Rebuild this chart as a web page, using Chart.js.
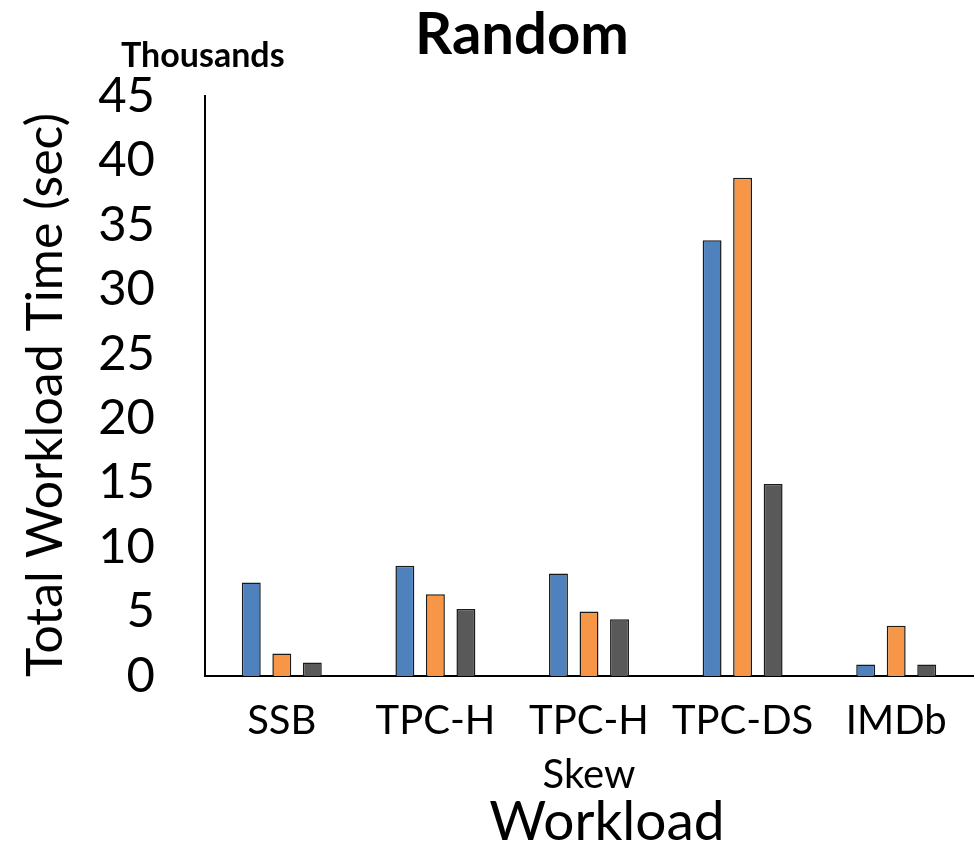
<!DOCTYPE html>
<html>
<head>
<meta charset="utf-8">
<script src="https://cdn.jsdelivr.net/npm/chart.js@4/dist/chart.umd.min.js"></script>
<style>
  html, body { margin: 0; padding: 0; background: #ffffff; }
  #wrap { width: 975px; height: 848px; }
</style>
</head>
<body>
<div id="wrap"><canvas id="c" width="975" height="848"></canvas></div>
<script>
// Workload categories (multi-line label as an array)
const categories = ['SSB', 'TPC-H', ['TPC-H', 'Skew'], 'TPC-DS', 'IMDb'];

// Total workload time, in thousands of seconds
const series1 = [7.25, 8.55, 7.95, 33.8, 0.9];
const series2 = [1.75, 6.35, 5.0, 38.65, 3.9];
const series3 = [1.05, 5.2, 4.4, 14.9, 0.9];

const seriesNames = ['Series1', 'Series2', 'Series3'];
const yTicks = [0, 5, 10, 15, 20, 25, 30, 35, 40, 45];

const chartTitle = 'Random';
const unitLabel = 'Thousands';
const yTitle = 'Total Workload Time (sec)';
const xTitle = 'Workload';

const FONT = 'Lato';

// Title, unit label and axis titles drawn on top of the chart
const textPlugin = {
  id: 'textPlugin',
  afterDraw(chart) {
    const ctx = chart.ctx;
    ctx.save();
    ctx.fillStyle = '#000';
    ctx.textBaseline = 'middle';

    ctx.textAlign = 'center';
    ctx.font = 'bold 58px ' + FONT;
    ctx.fillText(chartTitle, 522, 35);

    ctx.textAlign = 'left';
    ctx.font = 'bold 34px ' + FONT;
    ctx.fillText(unitLabel, 121, 56);

    ctx.textAlign = 'center';
    ctx.font = '55px ' + FONT;
    ctx.fillText(xTitle, 607, 822);

    ctx.translate(46, 395);
    ctx.rotate(-Math.PI / 2);
    ctx.font = '50px ' + FONT;
    ctx.fillText(yTitle, 0, 0);
    ctx.restore();
  }
};

new Chart(document.getElementById('c'), {
  type: 'bar',
  data: {
    labels: categories,
    datasets: [
      { label: seriesNames[0], data: series1, backgroundColor: '#4F81BD' },
      { label: seriesNames[1], data: series2, backgroundColor: '#F79646' },
      { label: seriesNames[2], data: series3, backgroundColor: '#595959' }
    ].map(d => Object.assign(d, {
      borderColor: '#1a1a1a',
      borderWidth: 1.5,
      categoryPercentage: 0.596,
      barPercentage: 0.62
    }))
  },
  options: {
    responsive: false,
    animation: false,
    devicePixelRatio: 1,
    layout: { padding: { top: 96, right: 2, left: 0, bottom: 0 } },
    plugins: {
      legend: { display: false },
      title: { display: false },
      tooltip: { enabled: false }
    },
    scales: {
      x: {
        grid: { display: false, drawTicks: false },
        border: { display: true, color: '#000', width: 2 },
        ticks: {
          color: '#000',
          font: { family: FONT, size: 40, lineHeight: 1.35 },
          padding: 18,
          maxRotation: 0,
          autoSkip: false
        },
        afterFit(scale) { scale.height = 172; }
      },
      y: {
        min: 0,
        max: 45,
        afterBuildTicks(scale) { scale.ticks = yTicks.map(v => ({ value: v })); },
        grid: { display: false, drawTicks: false },
        border: { display: true, color: '#000', width: 2 },
        ticks: {
          color: '#000',
          font: { family: FONT, size: 49 },
          padding: 50
        },
        afterFit(scale) { scale.width = 205; }
      }
    }
  },
  plugins: [textPlugin]
});
</script>
</body>
</html>
